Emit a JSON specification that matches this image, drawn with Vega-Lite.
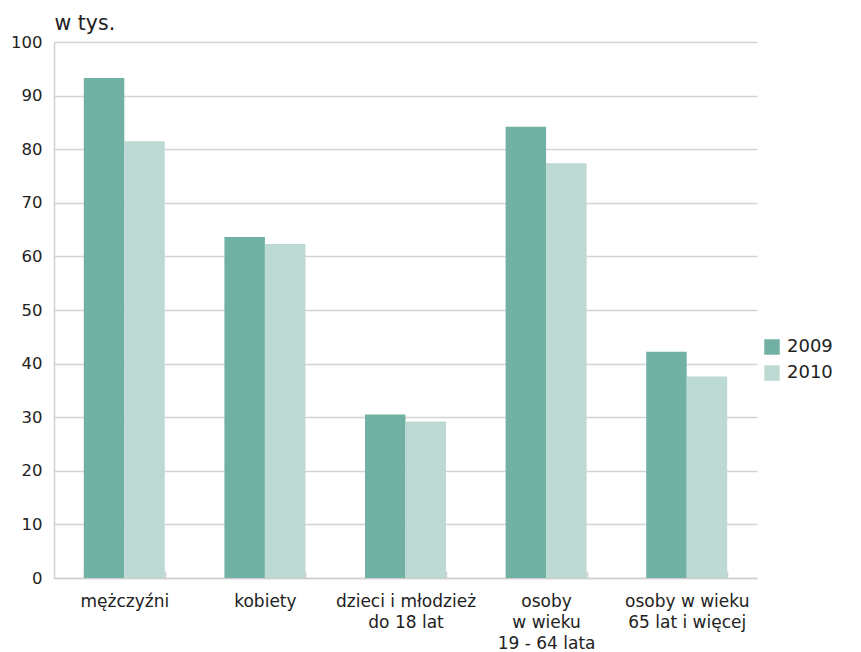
{
  "$schema": "https://vega.github.io/schema/vega-lite/v6.json",
  "autosize": {"type": "none"},
  "padding": {"left": 54, "top": 42, "right": 104, "bottom": 74},
  "width": 703,
  "height": 536,
  "background": "white",
  "config": {
    "font": "DejaVu Sans",
    "view": {"stroke": null}
  },
  "data": {
    "values": [
      {"kategoria": "mężczyźni", "rok": "2009", "wartosc": 93.3},
      {"kategoria": "mężczyźni", "rok": "2010", "wartosc": 81.5},
      {"kategoria": "kobiety", "rok": "2009", "wartosc": 63.6},
      {"kategoria": "kobiety", "rok": "2010", "wartosc": 62.3},
      {"kategoria": "dzieci i młodzież|do 18 lat", "rok": "2009", "wartosc": 30.5},
      {"kategoria": "dzieci i młodzież|do 18 lat", "rok": "2010", "wartosc": 29.2},
      {"kategoria": "osoby|w wieku|19 - 64 lata", "rok": "2009", "wartosc": 84.2},
      {"kategoria": "osoby|w wieku|19 - 64 lata", "rok": "2010", "wartosc": 77.4},
      {"kategoria": "osoby w wieku|65 lat i więcej", "rok": "2009", "wartosc": 42.2},
      {"kategoria": "osoby w wieku|65 lat i więcej", "rok": "2010", "wartosc": 37.6}
    ]
  },
  "mark": {"type": "bar"},
  "encoding": {
    "x": {
      "field": "kategoria",
      "type": "nominal",
      "sort": ["mężczyźni", "kobiety", "dzieci i młodzież|do 18 lat", "osoby|w wieku|19 - 64 lata", "osoby w wieku|65 lat i więcej"],
      "scale": {"paddingInner": 0.424, "paddingOuter": 0.212},
      "axis": {
        "title": null,
        "labelAngle": 0,
        "labelExpr": "split(datum.label, '|')",
        "labelFont": "DejaVu Sans",
        "labelFontSize": 17,
        "labelColor": "#222222",
        "labelPadding": 22,
        "labelLineHeight": 21,
        "domainColor": "#cfcfcf",
        "domainWidth": 1.5,
        "tickColor": "#cfcfcf",
        "tickWidth": 1.5,
        "tickSize": -7,
        "tickBand": "extent",
        "grid": false
      }
    },
    "xOffset": {"field": "rok", "type": "nominal"},
    "y": {
      "field": "wartosc",
      "type": "quantitative",
      "scale": {"domain": [0, 100]},
      "axis": {
        "values": [0, 10, 20, 30, 40, 50, 60, 70, 80, 90, 100],
        "title": "w tys.",
        "titleAngle": 0,
        "titleAlign": "left",
        "titleBaseline": "alphabetic",
        "titleX": 0,
        "titleY": -13,
        "titleFont": "DejaVu Sans",
        "titleFontSize": 20.5,
        "titleFontWeight": "normal",
        "titleColor": "#222222",
        "labelFont": "DejaVu Sans",
        "labelFontSize": 16.5,
        "labelColor": "#222222",
        "labelPadding": 12,
        "ticks": false,
        "domainColor": "#cfcfcf",
        "domainWidth": 1.5,
        "gridColor": "#d4d4d4",
        "gridWidth": 1.5
      }
    },
    "color": {
      "field": "rok",
      "type": "nominal",
      "scale": {"domain": ["2009", "2010"], "range": ["#71b1a4", "#bdd9d3"]},
      "legend": {
        "title": null,
        "orient": "none",
        "legendX": 709,
        "legendY": 296,
        "symbolType": "square",
        "symbolSize": 240,
        "symbolStrokeWidth": 0,
        "labelFont": "DejaVu Sans",
        "labelFontSize": 18,
        "labelColor": "#222222",
        "labelOffset": 6,
        "rowPadding": 8
      }
    }
  }
}
